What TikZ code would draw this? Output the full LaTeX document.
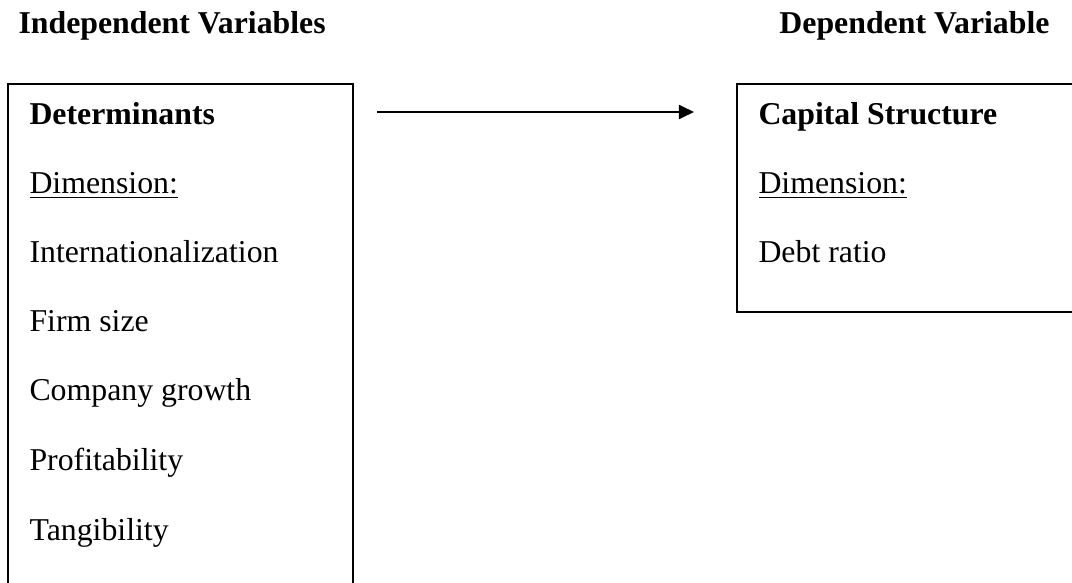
\documentclass[tikz,border=0pt]{standalone}
\usepackage{fontspec}
\setmainfont{Liberation Serif}
\usetikzlibrary{arrows.meta}
\tikzset{
  x=0.3774pt, y=-0.3774pt,
  boxline/.style={line width=0.75pt, draw=black},
  txt/.style={anchor=base west, inner sep=0pt, font=\fontsize{12}{14}\selectfont},
  head/.style={inner sep=0pt, font=\fontsize{12}{14}\selectfont\bfseries},
  conn/.style={line width=0.75pt, -{Triangle[length=5.7pt,width=5.3pt]}}
}
\begin{document}
\begin{tikzpicture}
\useasboundingbox (0,0) rectangle (1072,583);
\clip (0,0) rectangle (1072,583);
% headers
\node[head, anchor=base west] (hind) at (18,33) {Independent Variables};
\node[head, anchor=base east] (hdep) at (1050,33) {Dependent Variable};
% left box
\coordinate (lbnw) at (8,84);
\coordinate (lbse) at (353,640);
\draw[boxline] (lbnw) rectangle (lbse);
\node[txt, font=\fontsize{12}{14}\selectfont\bfseries] (det) at (29,124) {Determinants};
\node[txt] (ldim) at (29,193) {\underline{Dimension:}};
\node[txt] (intl) at (29,263) {Internationalization};
\node[txt] (fsize) at (29,331) {Firm size};
\node[txt] (cgrow) at (29,400) {Company growth};
\node[txt] (prof) at (29,470) {Profitability};
\node[txt] (tang) at (29,540) {Tangibility};
% right box
\coordinate (rbnw) at (737,84);
\coordinate (rbse) at (1100,312);
\draw[boxline] (rbnw) rectangle (rbse);
\node[txt, font=\fontsize{12}{14}\selectfont\bfseries] (cap) at (758,124) {Capital Structure};
\node[txt] (rdim) at (758,193) {\underline{Dimension:}};
\node[txt] (debt) at (758,263) {Debt ratio};
% arrow
\coordinate (astart) at (377,112);
\coordinate (aend) at (694,112);
\draw[conn] (astart) -- (aend);
\end{tikzpicture}
\end{document}
